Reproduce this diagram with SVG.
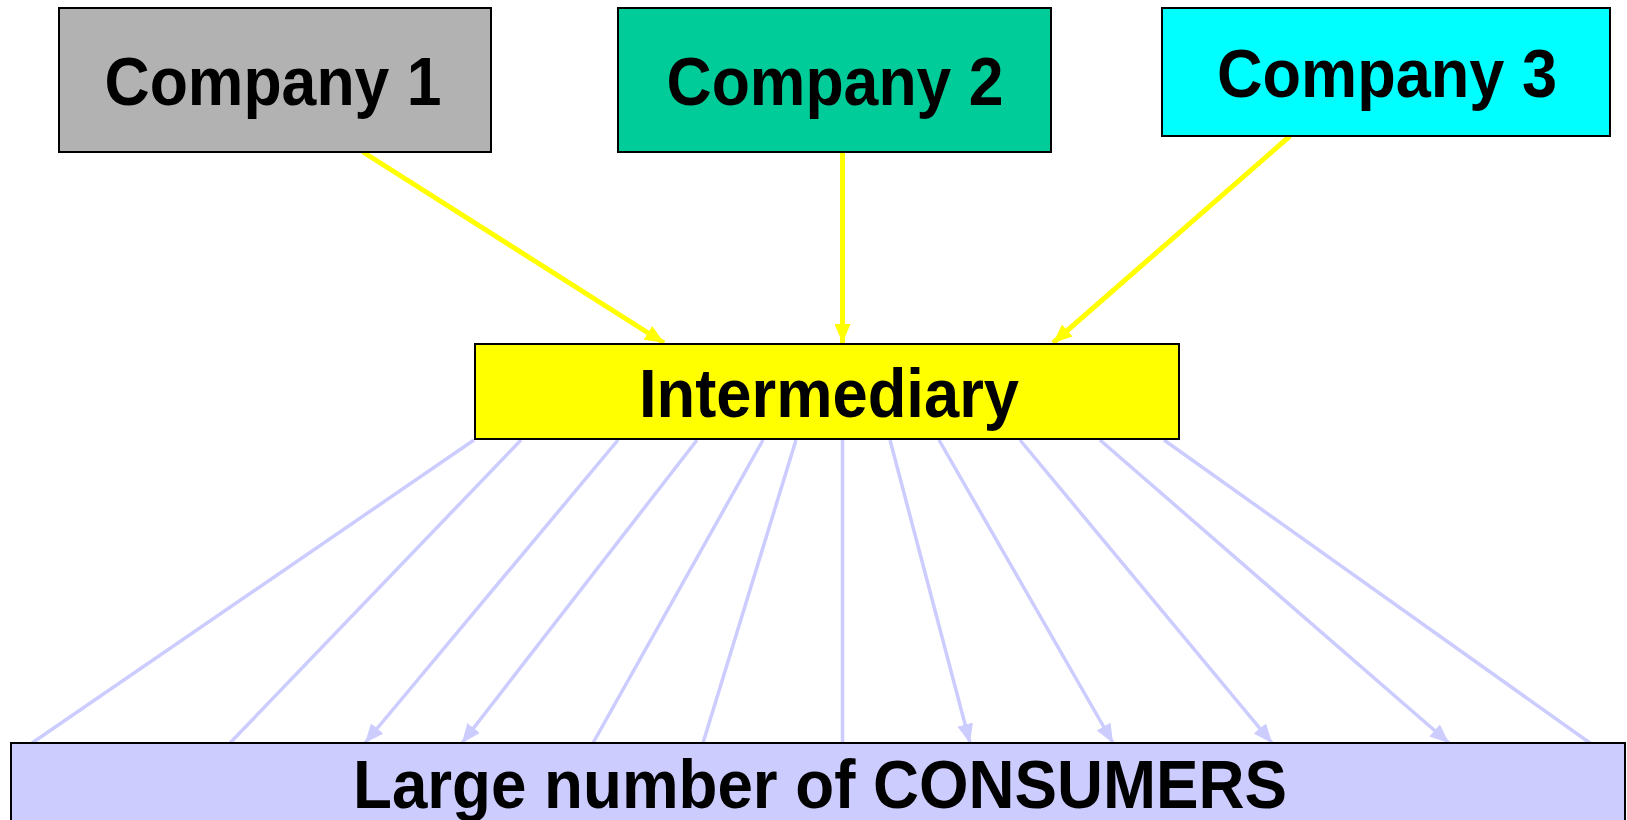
<svg xmlns="http://www.w3.org/2000/svg" width="1627" height="820" viewBox="0 0 1627 820">
<style>
.box{stroke:#000;stroke-width:2}
.lbl{font-family:"Liberation Sans",Arial,sans-serif;font-weight:bold;font-size:68px;fill:#000;text-anchor:middle}
.y{stroke:#FFFF00;stroke-width:5;fill:none}
.b{stroke:#CCCCFF;stroke-width:3.5;fill:none}
</style>
<defs>
<marker id="ay" markerUnits="userSpaceOnUse" markerWidth="20" markerHeight="16" refX="19" refY="8" orient="auto"><path d="M0,0 L19,8 L0,16 Z" fill="#FFFF00"/></marker>
<marker id="ab" markerUnits="userSpaceOnUse" markerWidth="20" markerHeight="16" refX="19" refY="8" orient="auto"><path d="M0,0 L19,8 L0,16 Z" fill="#CCCCFF"/></marker>
</defs>
<rect width="1627" height="820" fill="#fff"/>
<g id="connectors">
<line class="y" x1="363" y1="152" x2="664" y2="343" marker-end="url(#ay)"/>
<line class="y" x1="842.5" y1="152" x2="842.5" y2="343" marker-end="url(#ay)"/>
<line class="y" x1="1290" y1="136" x2="1053" y2="343" marker-end="url(#ay)"/>
<line class="b" x1="474" y1="440" x2="32" y2="743"/>
<line class="b" x1="521" y1="440" x2="230" y2="743"/>
<line class="b" x1="618" y1="440" x2="365" y2="743" marker-end="url(#ab)"/>
<line class="b" x1="697" y1="440" x2="462" y2="743" marker-end="url(#ab)"/>
<line class="b" x1="763" y1="440" x2="593" y2="743"/>
<line class="b" x1="796" y1="440" x2="703" y2="743"/>
<line class="b" x1="842.5" y1="440" x2="842.5" y2="743"/>
<line class="b" x1="890" y1="440" x2="970" y2="743" marker-end="url(#ab)"/>
<line class="b" x1="939" y1="440" x2="1113" y2="743" marker-end="url(#ab)"/>
<line class="b" x1="1020" y1="440" x2="1272" y2="743" marker-end="url(#ab)"/>
<line class="b" x1="1100" y1="440" x2="1449" y2="743" marker-end="url(#ab)"/>
<line class="b" x1="1164" y1="440" x2="1590" y2="743"/>
</g>
<g id="company1">
<rect class="box" x="59" y="8" width="432" height="144" fill="#B2B2B2"/>
<text class="lbl" x="273" y="105" textLength="337" lengthAdjust="spacingAndGlyphs">Company 1</text>
</g>
<g id="company2">
<rect class="box" x="618" y="8" width="433" height="144" fill="#00CC99"/>
<text class="lbl" x="835" y="105" textLength="337" lengthAdjust="spacingAndGlyphs">Company 2</text>
</g>
<g id="company3">
<rect class="box" x="1162" y="8" width="448" height="128" fill="#00FFFF"/>
<text class="lbl" x="1387" y="97" textLength="340" lengthAdjust="spacingAndGlyphs">Company 3</text>
</g>
<g id="intermediary">
<rect class="box" x="475" y="344" width="704" height="95" fill="#FFFF00"/>
<text class="lbl" x="829" y="417" textLength="380" lengthAdjust="spacingAndGlyphs">Intermediary</text>
</g>
<g id="consumers">
<rect class="box" x="11" y="743" width="1614" height="90" fill="#CCCCFF"/>
<text class="lbl" x="820" y="808" textLength="934" lengthAdjust="spacingAndGlyphs">Large number of CONSUMERS</text>
</g>
</svg>
